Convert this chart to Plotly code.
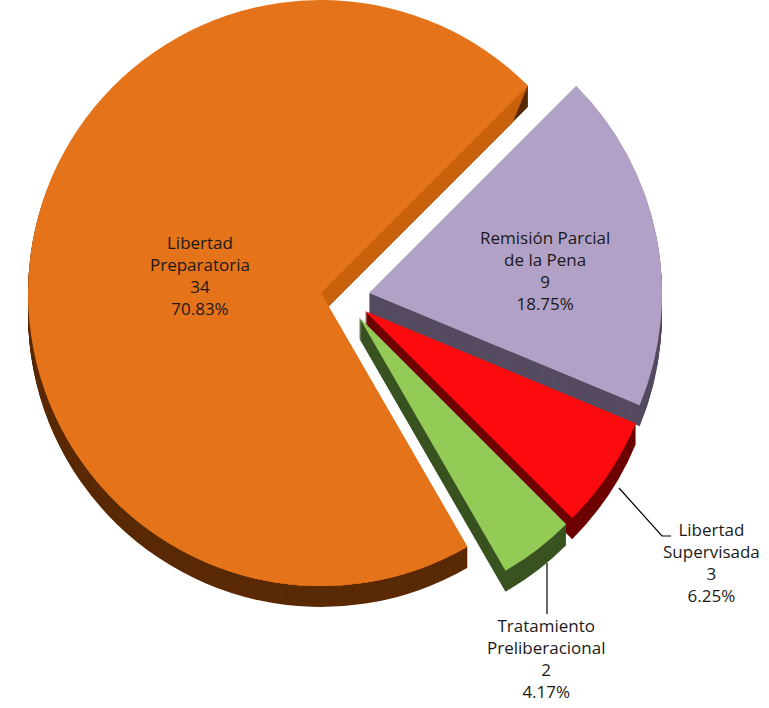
import plotly.graph_objects as go

# ---- data -------------------------------------------------------------
labels = [
    "Libertad Preparatoria",
    "Remisión Parcial de la Pena",
    "Libertad Supervisada",
    "Tratamiento Preliberacional",
]
label_text = [
    "Libertad<br>Preparatoria",
    "Remisión Parcial<br>de la Pena",
    "Libertad<br>Supervisada",
    "Tratamiento<br>Preliberacional",
]
values = [34, 9, 3, 2]

# ---- styling ----------------------------------------------------------
top_colors = ["#E4731A", "#B1A1C6", "#FB0A0E", "#93CB56"]
side_colors = ["#5A2A05", "#554B60", "#6E0000", "#3A5321"]
cut_face_color = "#C9600B"          # radial face of the large slice

W, H = 769, 708
R = 293                      # pie radius, px
CX, CY = 321, 293            # centre of the main slice, px
explode = [(0, 0), (48, 0), (44, 18), (38, 24)]   # per-slice offset, px
DEPTH = 21                   # extrusion height, px
ROTATION = 150
FONT = dict(family="Open Sans, Noto Sans, sans-serif", size=17, color="#1a1a1a")

# label block centres (px) and leader lines for the outside labels
label_pos = [(200, 275), (545, 271), (711, 562), (546, 658)]
leaders = [None, None, [(619, 488), (662, 536), (671, 536)], [(547, 563), (547, 614)]]


def px_x(x):
    return x / W


def px_y(y):
    return 1 - y / H


def domain(cx, cy, r):
    return dict(x=[px_x(cx - r), px_x(cx + r)], y=[px_y(cy + r), px_y(cy - r)])


def slice_pie(i, color, dx, dy, r):
    cols = ["rgba(0,0,0,0)"] * len(values)
    cols[i] = color
    return go.Pie(
        values=values,
        labels=labels,
        sort=False,
        direction="clockwise",
        rotation=ROTATION,
        marker=dict(colors=cols, line=dict(width=0)),
        textinfo="none",
        hoverinfo="skip",
        showlegend=False,
        domain=domain(CX + dx, CY + dy, r),
    )


fig = go.Figure()

offsets = list(range(DEPTH, 0, -1))

# extruded sides: stacked copies of every slice, deepest first
for k in offsets:
    for i, (dx, dy) in enumerate(explode):
        fig.add_trace(slice_pie(i, side_colors[i], dx, dy + k, R))

# lighter cut face of the big slice (smaller radius keeps it off the rim)
for k in offsets:
    fig.add_trace(slice_pie(0, cut_face_color, 0, k, R - k))

# top faces
for i, (dx, dy) in enumerate(explode):
    fig.add_trace(slice_pie(i, top_colors[i], dx, dy, R))

# labels
total = sum(values)
annotations = []
for i, (lx, ly) in enumerate(label_pos):
    pct = values[i] / total * 100
    annotations.append(dict(
        x=px_x(lx), y=px_y(ly), xref="paper", yref="paper",
        xanchor="center", yanchor="middle", showarrow=False,
        text=f"{label_text[i]}<br>{values[i]}<br>{pct:.2f}%",
        font=FONT, align="center",
    ))

shapes = []
for pts in leaders:
    if not pts:
        continue
    path = "M " + " L ".join(f"{px_x(x)},{px_y(y)}" for x, y in pts)
    shapes.append(dict(type="path", path=path, xref="paper", yref="paper",
                       line=dict(color="#000000", width=1.2)))

fig.update_layout(
    width=W, height=H,
    margin=dict(l=0, r=0, t=0, b=0),
    paper_bgcolor="white",
    plot_bgcolor="white",
    showlegend=False,
    annotations=annotations,
    shapes=shapes,
)

fig.write_html("out.html")
